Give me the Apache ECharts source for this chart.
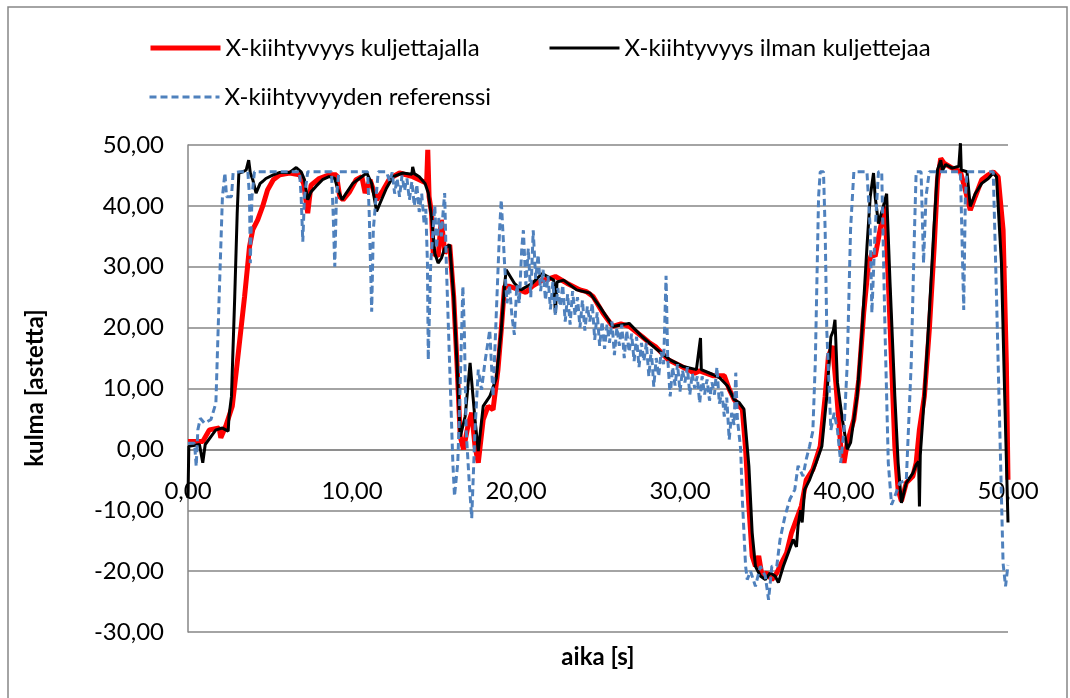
<!DOCTYPE html>
<html>
<head>
<meta charset="utf-8">
<script src="https://cdn.jsdelivr.net/npm/echarts@6/dist/echarts.min.js"></script>
<style>
html,body{margin:0;padding:0;background:#fff;}
#chart{width:1070px;height:698px;}
</style>
</head>
<body>
<div id="chart"></div>
<script>
// ---- data ----
const seriesNames = ['X-kiihtyvyys kuljettajalla', 'X-kiihtyvyys ilman kuljettejaa', 'X-kiihtyvyyden referenssi'];
const xTicks = [0, 10, 20, 30, 40, 50];
const yTicks = [-30, -20, -10, 0, 10, 20, 30, 40, 50];

const timeRed = [0,0.9,1.3,1.9,2.0,2.3,2.7,3.0,3.45,3.75,3.95,4.25,4.55,4.85,5.2,5.6,6.2,6.8,7.05,7.3,7.5,8.0,8.6,9.05,9.25,9.45,9.85,10.25,10.6,10.8,11.1,11.5,11.9,12.3,12.9,13.7,14.1,14.55,14.62,14.7,14.85,14.95,15.25,15.45,15.66,15.96,16.2,16.4,16.6,16.8,17.1,17.3,17.5,17.7,18.0,18.3,18.6,18.9,19.1,19.3,19.6,20.2,20.6,21.0,21.6,22.0,22.4,23.1,23.9,24.3,24.7,25.3,25.9,26.4,26.9,27.7,28.1,28.5,29.3,30.1,30.9,31.2,32.0,32.7,33.0,33.3,33.6,33.8,34.0,34.2,34.4,34.6,34.8,35.0,35.3,35.6,35.9,36.2,36.5,36.8,37.1,37.4,37.7,38.1,38.55,38.85,39.05,39.3,39.5,39.8,40.0,40.2,40.6,40.9,41.2,41.5,41.7,41.9,42.2,42.5,42.7,42.9,43.1,43.3,43.5,43.8,44.2,44.4,44.6,44.9,45.2,45.5,45.7,45.9,46.1,46.6,47.1,47.4,47.7,48.0,48.4,48.8,49.1,49.4,49.7,49.9,50.0];
const red = [1.3,1.3,3.2,3.5,1.9,3.8,7.1,14.2,25.1,33.3,36.1,37.7,39.9,42.6,44.3,45.1,45.4,45.1,43.7,38.8,43.4,44.5,45.1,45.1,41.5,41.0,42.3,44.3,44.8,42.1,44.3,41.0,42.6,44.5,45.4,44.8,44.3,43.7,49.2,41.5,38.8,32.2,31.7,37.7,32.2,33.6,25.1,14.2,2.1,0,4.3,6.0,0.5,-2.2,4.9,7.1,6.5,13.1,19.6,26.8,26.8,26.2,25.8,26.8,27.8,28.0,28.4,27.3,26.2,25.9,25.1,22.4,20.2,20.6,20.2,18.5,17.6,16.9,14.7,13.6,12.5,12.9,12.1,12.1,9.9,8.2,7.1,6.6,0,-9.3,-17.5,-19.2,-17.5,-20.8,-20.3,-21.4,-20.3,-18.6,-17.0,-13.7,-11.5,-9.3,-5.0,-3.3,0.5,8.7,15.3,17.0,11.0,0.5,-2.2,1.1,4.9,11.4,22.4,30.6,32.2,31.7,36.1,39.9,27.8,14.2,0.5,-6.6,-8.5,-5.5,-4.4,-2.2,3.3,8.7,19.6,33.3,44.3,47.8,47.0,46.2,45.6,42.6,39.3,41.5,44.3,45.1,45.6,44.8,36.1,14.2,-5.0];

const timeBlack = [0,0.05,0.7,0.9,1.05,1.4,1.7,2.1,2.45,2.5,2.65,2.85,3.0,3.1,3.35,3.55,3.7,3.8,3.95,4.15,4.4,4.55,4.75,5.2,5.6,6.2,6.6,6.9,7.1,7.3,7.5,7.8,8.2,8.6,8.95,9.15,9.4,9.65,10.05,10.45,10.9,11.2,11.5,11.8,12.1,12.5,13.1,13.65,13.7,13.8,14.1,14.45,14.65,14.85,15.05,15.25,15.45,15.65,15.96,16.2,16.4,16.6,16.9,17.2,17.5,17.7,18.0,18.4,18.8,19.1,19.3,19.4,19.9,20.3,21.0,21.6,22.3,22.4,22.5,22.9,23.7,24.5,25.1,25.9,26.9,27.7,28.6,29.4,30.2,31.0,31.25,31.3,32.0,32.4,32.9,33.3,33.6,33.9,34.2,34.4,34.6,34.9,35.2,35.5,35.8,36.0,36.3,36.6,36.9,37.1,37.2,37.35,37.45,37.6,37.9,38.3,38.65,38.95,39.2,39.35,39.45,39.6,39.9,40.2,40.4,40.8,41.1,41.4,41.6,41.8,41.9,42.1,42.4,42.6,42.8,43.1,43.3,43.5,43.8,44.2,44.4,44.55,44.6,44.65,44.9,45.2,45.5,45.7,45.9,46.0,46.2,46.6,47.0,47.1,47.15,47.5,47.7,48.0,48.4,48.8,49.1,49.3,49.6,49.8,50.0];
const black = [-8.0,0.5,0.8,-2.2,0.8,2.1,3.2,3.5,3.0,5.4,8.7,25.1,38.8,45.4,45.6,45.9,47.5,45.4,44.3,42.1,43.7,44.0,44.5,45.1,45.5,45.5,46.3,45.6,44.3,41.0,42.3,43.2,44.3,44.8,44.5,42.6,41.0,42.1,43.7,44.5,45.4,43.7,39.1,41.0,42.9,44.8,45.4,45.2,46.4,45.3,44.8,43.7,42.1,38.2,32.2,30.6,31.4,33.0,33.6,25.1,14.2,2.1,5.4,14.2,4.9,-0.3,7.1,8.7,11.7,19.6,26.8,29.5,27.3,26.2,27.3,28.9,27.8,22.4,27.5,27.8,26.2,25.7,23.5,20.2,20.7,18.5,16.4,14.7,13.6,13.1,18.3,13.1,12.3,11.8,10.4,8.2,7.7,6.6,-2.7,-13.7,-19.2,-20.8,-21.4,-20.3,-20.8,-21.9,-19.2,-17.0,-14.8,-16.0,-12.5,-10.0,-12.0,-6.6,-5.0,-2.2,0.5,8.7,18.5,19.5,21.3,11.0,4.9,0,1.1,8.7,19.6,33.3,41.5,45.4,41.5,37.1,39.9,42.0,27.8,8.7,-2.2,-8.8,-5.5,-3.9,-2.5,-2.0,-9.4,-1.0,8.7,22.4,37.1,45.9,47.5,45.8,46.8,46.2,46.5,50.3,45.9,45.6,39.9,42.0,43.7,44.5,45.4,44.8,30.6,8.7,-12.0];

const timeRef = [0,0.4,0.5,0.6,0.75,1.0,1.4,1.7,1.9,2.1,2.25,2.35,2.65,2.75,3.15,3.65,3.75,3.8,3.9,4.05,6.8,6.9,7.0,7.1,7.3,8.75,8.85,8.95,9.05,9.2,10.95,11.05,11.2,11.3,11.6,12.1,12.3,12.45,12.6,12.75,12.9,13.05,13.2,13.35,13.5,13.65,13.8,13.95,14.1,14.25,14.4,14.5,14.6,14.65,14.8,14.95,15.05,15.15,15.3,15.45,15.55,15.65,15.75,15.95,16.15,16.25,16.45,16.55,16.76,16.85,16.96,17.15,17.3,17.5,17.7,17.9,18.1,18.4,18.6,18.8,19.0,19.1,19.3,19.45,19.6,19.75,19.9,20.05,20.2,20.35,20.45,20.6,20.75,20.9,21.05,21.2,21.35,21.5,21.65,21.8,21.95,22.1,22.25,22.4,22.55,22.7,22.85,23.0,23.15,23.3,23.45,23.6,23.75,23.9,24.05,24.2,24.35,24.5,24.65,24.8,24.95,25.1,25.25,25.4,25.55,25.7,25.85,26.0,26.15,26.3,26.45,26.6,26.75,26.9,27.05,27.2,27.35,27.5,27.65,27.8,27.95,28.1,28.25,28.4,28.55,28.7,28.85,29.0,29.15,29.25,29.4,29.55,29.7,29.85,30.0,30.15,30.3,30.45,30.6,30.75,30.9,31.05,31.2,31.35,31.5,31.65,31.8,31.95,32.1,32.25,32.4,32.55,32.7,32.85,33.0,33.15,33.3,33.4,33.5,33.7,33.8,34.0,34.1,34.3,34.6,34.9,35.2,35.4,35.6,35.9,36.1,36.4,36.7,37.0,37.2,37.5,37.7,37.9,38.1,38.25,38.45,38.55,38.75,38.85,38.95,39.2,39.4,39.6,39.8,40.0,40.2,40.4,40.6,41.4,41.6,41.7,41.9,42.1,42.3,42.5,42.7,42.9,43.1,43.4,43.8,44.1,44.3,44.4,44.7,44.85,45.0,45.2,47.1,47.3,47.4,47.5,49.1,49.3,49.5,49.7,49.85,50.0];
const reference = [1.0,1.0,-2.8,3.2,5.1,4.3,4.9,7.6,25.1,41.5,45.4,41.5,41.5,45.4,45.6,45.6,41.5,30.6,41.5,45.6,45.6,41.5,34.1,41.5,45.6,45.6,38.8,30.0,41.5,45.6,45.6,38.8,22.6,36.1,45.6,45.6,44.0,45.5,42.0,44.5,41.5,45.0,42.5,44.5,41.0,44.0,40.0,43.5,39.0,42.0,37.0,39.5,30.6,14.7,30.6,36.1,40.0,33.0,38.0,35.0,38.8,42.1,30.6,14.2,-2.2,-7.7,-2.2,6.0,26.8,19.6,3.2,-5.5,-11.3,3.2,13.1,9.8,14.2,19.6,8.7,22.4,36.1,41.0,30.6,24.0,27.0,22.0,18.8,27.0,24.0,33.0,36.0,27.0,33.0,25.0,36.0,28.0,32.0,26.0,29.5,24.5,28.5,23.0,27.5,22.0,26.5,23.5,27.0,21.0,25.5,20.5,26.0,22.0,25.0,20.0,24.5,19.5,23.5,21.0,24.0,18.0,22.5,17.0,21.0,16.5,20.5,17.5,21.0,15.5,20.0,17.0,20.5,15.0,19.5,16.0,19.0,14.5,18.5,13.5,17.5,14.5,17.5,12.0,16.5,10.3,15.0,12.0,16.0,14.0,28.5,15.0,8.7,13.5,10.5,14.0,9.5,13.0,11.0,13.5,9.0,12.5,10.0,12.0,7.6,12.0,9.0,11.5,8.0,11.0,9.0,13.5,7.5,9.5,5.4,8.5,1.6,6.0,4.0,12.6,5.0,0,-8.2,-19.2,-21.4,-20.0,-22.5,-19.2,-20.8,-24.7,-19.2,-19.2,-14.8,-11.0,-8.2,-6.6,-2.7,-4.4,-1.6,0.5,3.0,14.2,41.5,45.6,45.6,36.1,19.6,3.2,6.0,3.2,-2.2,3.2,14.2,36.1,45.6,45.6,36.1,22.4,36.1,45.6,45.6,19.6,-2.2,-9.1,-7.7,-5.5,-5.0,14.2,36.1,45.6,45.6,30.6,41.5,45.6,45.6,22.9,41.5,45.6,45.6,25.1,3.2,-18.7,-22.5,-19.0];

// ---- chart ----
const FONT = 'Lato';
const FS = 24;
const GRID = {left: 188, right: 62, top: 145, bottom: 66};
const fmt = v => v.toFixed(2).replace('.', ',');
const pairs = (ts, vs) => ts.map((t, i) => [t, vs[i]]);

const el = document.getElementById('chart');
const chart = echarts.init(el, null, {renderer: 'canvas'});
// plot height, used to put the x axis (labels) on the zero line
const plotH = el.clientHeight - GRID.top - GRID.bottom;
const yMin = yTicks[0], yMax = yTicks[yTicks.length - 1];
const zeroOffset = -plotH * (0 - yMin) / (yMax - yMin);

const legendBase = {
  orient: 'horizontal', itemWidth: 70, itemHeight: 14, padding: 0, selectedMode: false,
  itemStyle: {opacity: 0, borderWidth: 0},
  textStyle: {fontFamily: FONT, fontSize: FS, color: '#000'}
};
chart.setOption({
  animation: false,
  backgroundColor: '#fff',
  textStyle: {fontFamily: FONT},
  grid: Object.assign({containLabel: false}, GRID),
  legend: [
    Object.assign({}, legendBase, {left: 148, top: 36, data: [seriesNames[0]], lineStyle: {width: 5}}),
    Object.assign({}, legendBase, {left: 548, top: 36, data: [seriesNames[1]], lineStyle: {width: 3}}),
    Object.assign({}, legendBase, {left: 148, top: 85, data: [seriesNames[2]], lineStyle: {width: 3, type: [7, 4]}})
  ],
  xAxis: {
    type: 'value', min: xTicks[0], max: xTicks[xTicks.length - 1], interval: 10,
    position: 'bottom', offset: zeroOffset,
    axisLine: {onZero: false, lineStyle: {color: '#868686', width: 1.5}},
    axisTick: {show: false},
    splitLine: {show: false},
    axisLabel: {formatter: fmt, fontFamily: FONT, fontSize: FS, color: '#000', margin: 30}
  },
  yAxis: {
    type: 'value', min: yMin, max: yMax, interval: 10,
    axisLine: {show: true, onZero: false, lineStyle: {color: '#868686', width: 1.5}},
    axisTick: {show: false},
    splitLine: {show: true, lineStyle: {color: '#868686', width: 1.5}},
    axisLabel: {formatter: fmt, fontFamily: FONT, fontSize: FS, color: '#000', margin: 24}
  },
  graphic: [
    {type: 'rect', shape: {x: 8, y: 7, width: 1059, height: 700}, style: {fill: 'none', stroke: '#868686', lineWidth: 1.5}, silent: true, z: -1},
    {type: 'text', x: 35, y: 388, rotation: Math.PI / 2,
     style: {text: 'kulma [astetta]', fontFamily: FONT, fontSize: FS, fontWeight: 'bold', fill: '#000', textAlign: 'center', textVerticalAlign: 'middle'}},
    {type: 'text', x: 598, y: 657,
     style: {text: 'aika [s]', fontFamily: FONT, fontSize: FS, fontWeight: 'bold', fill: '#000', textAlign: 'center', textVerticalAlign: 'middle'}}
  ],
  series: [
    {name: seriesNames[0], type: 'line', data: pairs(timeRed, red), showSymbol: false, symbol: 'none', clip: false,
     lineStyle: {color: '#FF0000', width: 5}, itemStyle: {color: '#FF0000'}},
    {name: seriesNames[1], type: 'line', data: pairs(timeBlack, black), showSymbol: false, symbol: 'none', clip: false,
     lineStyle: {color: '#000000', width: 3}, itemStyle: {color: '#000000'}},
    {name: seriesNames[2], type: 'line', data: pairs(timeRef, reference), showSymbol: false, symbol: 'none', clip: false,
     lineStyle: {color: '#4F81BD', width: 3, type: [7, 4]}, itemStyle: {color: '#4F81BD'}}
  ]
});
</script>
</body>
</html>
